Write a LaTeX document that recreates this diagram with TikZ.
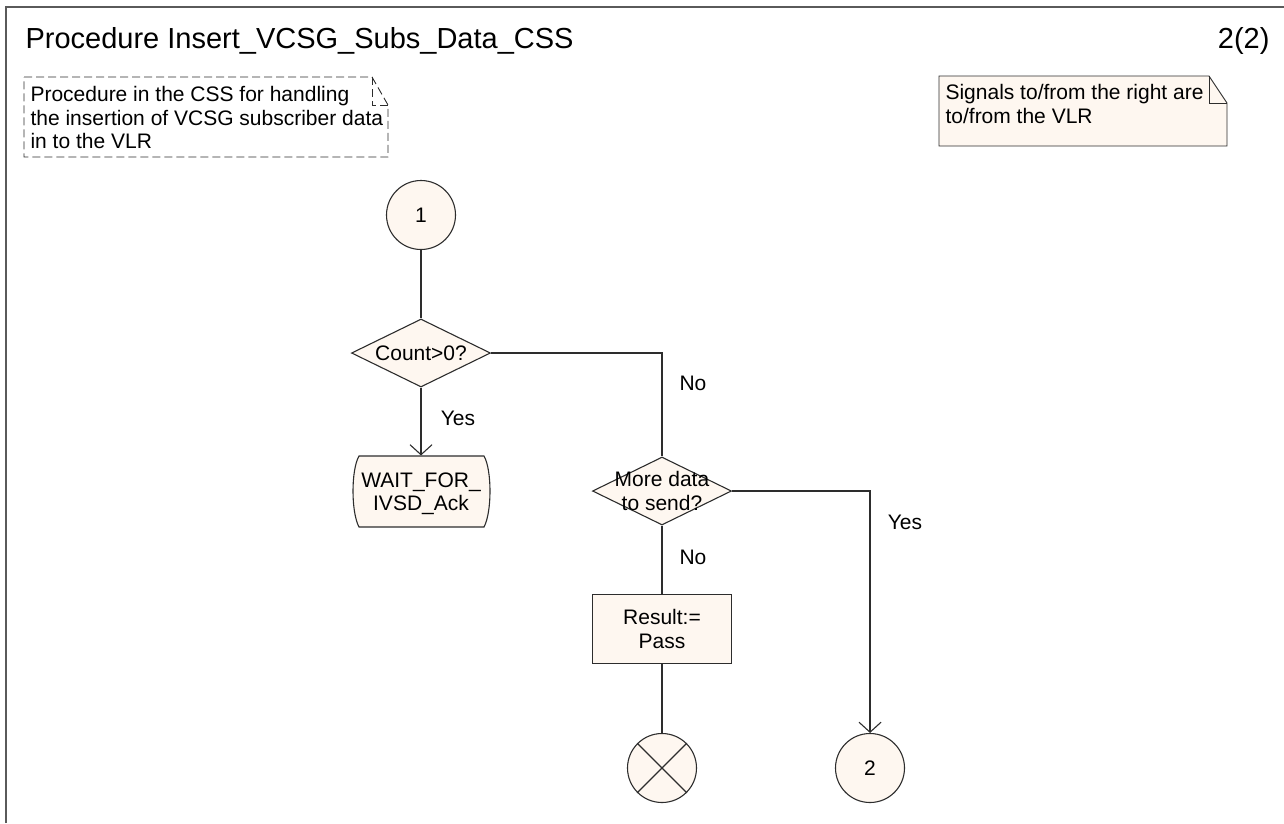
\documentclass[tikz,border=0pt]{standalone}
\usepackage{fontspec}
\setmainfont{Liberation Sans}
\usetikzlibrary{shapes.geometric,arrows.meta}
\definecolor{sdlfill}{RGB}{254,247,240}
\definecolor{sdlline}{RGB}{45,45,45}
\definecolor{framec}{RGB}{90,90,90}
\newcommand{\dtext}[1]{\makebox[0pt]{\smash{\raisebox{-8pt}{\begin{tabular}{@{}c@{}}#1\end{tabular}}}}}
\begin{document}
\begin{tikzpicture}[x=1pt,y=-1pt,
  font=\fontsize{21}{23.5}\selectfont,
  line width=1.1pt,
  sdl/.style={draw=sdlline, fill=sdlfill, inner sep=0pt},
  conn/.style={draw=sdlline},
  arr/.style={-{Straight Barb[length=10pt,width=22pt]}},
  lbl/.style={inner sep=0pt},
  circ/.style={sdl, circle, minimum size=69pt},
  dec/.style={sdl, diamond, minimum width=139pt, minimum height=68pt},
]
\useasboundingbox (0,0) rectangle (1284,823);
% frame
\draw[framec, line width=1.3pt] (6,823) -- (6,7) -- (1284,7);
\node[lbl, anchor=base west, font=\fontsize{29}{32}\selectfont] (title) at (25,48) {Procedure Insert\_VCSG\_Subs\_Data\_CSS};
\node[lbl, anchor=base east, font=\fontsize{29}{32}\selectfont] (page) at (1270,48) {2(2)};
% comment
\draw[sdlline, dashed, dash pattern=on 8pt off 4pt, line width=0.9pt] (24,77) -- (372,77) -- (388,105) -- (388,157) -- (24,157) -- cycle;
\draw[sdlline, dashed, dash pattern=on 8pt off 4pt, line width=0.9pt] (372,77) -- (372,105) -- (388,105);
\node[lbl, anchor=north west, align=left] (cmt) at (30,86) {Procedure in the CSS for handling\\the insertion of VCSG subscriber data\\in to the VLR};
% note
\draw[sdlline, fill=sdlfill, line width=0.9pt] (939,76) -- (1209,76) -- (1227,103) -- (1227,146) -- (939,146) -- cycle;
\draw[sdlline, line width=0.9pt] (1209,76) -- (1209,103) -- (1227,103);
\node[lbl, anchor=north west, align=left] (note) at (945,84) {Signals to/from the right are\\to/from the VLR};
% flow
\node[circ] (c1) at (421,215) {1};
\node[dec] (d1) at (421,353) {\dtext{Count>0?}};
% state symbol outline
\draw[sdl] (359,456) -- (484,456) .. controls (492,470) and (492,512) .. (484,527) -- (359,527) .. controls (351,512) and (351,470) .. (359,456) -- cycle;
\node[inner sep=0pt, minimum width=137pt, minimum height=71pt] (st) at (421,491.5) {\dtext{WAIT\_FOR\_\\IVSD\_Ack}};
\node[dec] (d2) at (662,491) {\dtext{More data\\to send?}};
\node[sdl, rectangle, minimum width=139pt, minimum height=69pt] (task) at (662,629) {\dtext{Result:=\\Pass}};
\node[circ] (term) at (662,768) {};
\node[circ] (c2) at (870,768) {2};
\draw[conn] (term.north west) -- (term.south east);
\draw[conn] (term.north east) -- (term.south west);
\draw[conn] (c1) -- (d1);
\draw[conn, arr] (d1) -- (st);
\draw[conn] (d1.east) -| (d2.north);
\draw[conn] (d2) -- (task);
\draw[conn] (task) -- (term);
\draw[conn, arr] (d2.east) -| (c2.north);
\node[lbl] (yes1) at (458,418) {Yes};
\node[lbl] (no1) at (693,383) {No};
\node[lbl] (yes2) at (905,522) {Yes};
\node[lbl] (no2) at (693,557) {No};
\end{tikzpicture}
\end{document}
